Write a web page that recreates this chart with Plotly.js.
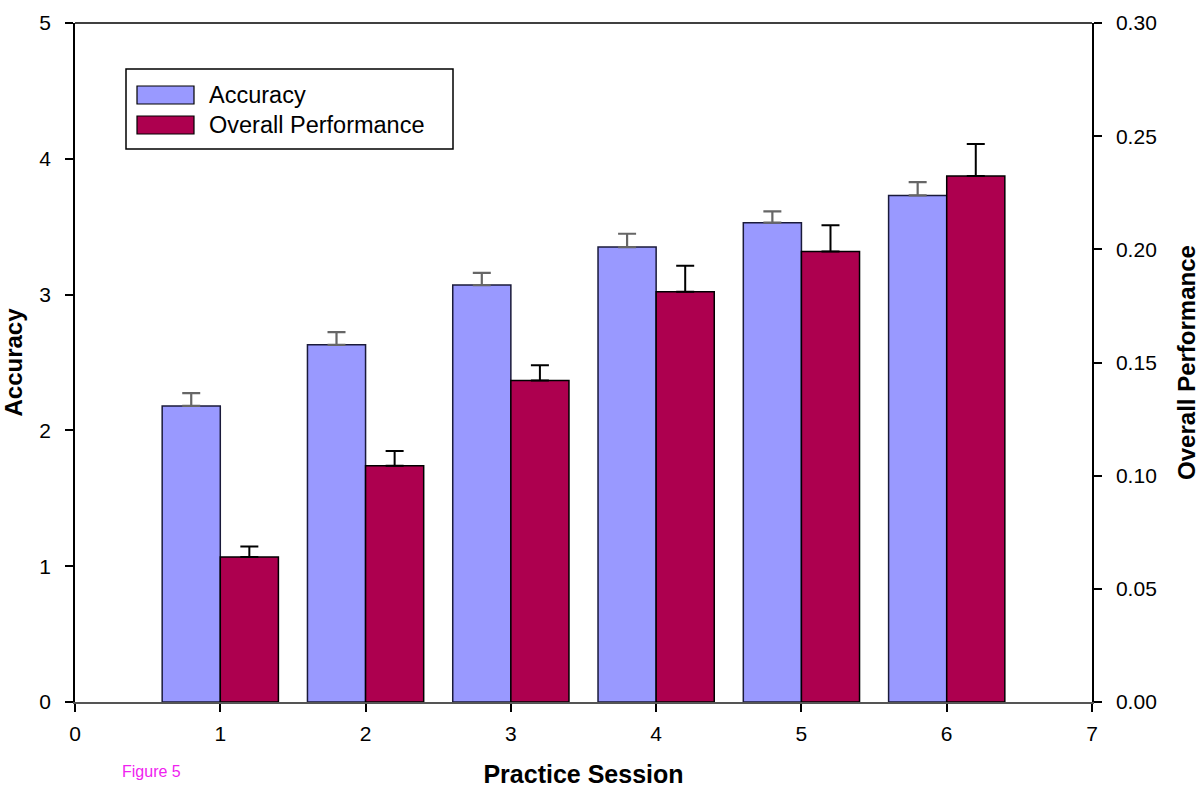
<!DOCTYPE html>
<html>
<head>
<meta charset="utf-8">
<script src="https://cdn.plot.ly/plotly-3.0.1.min.js"></script>
<style>
  body { margin: 0; background: #fff; }
  #graph { width: 1200px; height: 789px; }
</style>
</head>
<body>
<div id="graph"></div>
<script>
// Data
const sessions = [1, 2, 3, 4, 5, 6];
const accuracy = [2.18, 2.63, 3.07, 3.35, 3.53, 3.73];
const accuracyErr = [0.094, 0.093, 0.09, 0.098, 0.083, 0.098];
const overall = [0.0641, 0.1044, 0.142, 0.1813, 0.199, 0.2324];
const overallErr = [0.0046, 0.0065, 0.0068, 0.0114, 0.0116, 0.0141];
const seriesNames = ["Accuracy", "Overall Performance"];
const seriesColors = ["#9999ff", "#ad004f"];

// Plot box in pixels, used to place the hand drawn legend
const plotL = 75, plotR = 1092, plotT = 23, plotB = 702;
function px(x) { return (x - plotL) / (plotR - plotL); }
function py(y) { return (plotB - y) / (plotB - plotT); }

const font = "Liberation Sans, Arial, sans-serif";

let accTrace = {
    x: sessions,
    y: accuracy,
    type: "bar",
    name: seriesNames[0],
    offset: -0.4,
    width: 0.4,
    marker: { color: seriesColors[0], line: { color: "#1a1a3a", width: 1.5 } },
    error_y: {
        type: "data", symmetric: false, array: accuracyErr,
        arrayminus: accuracy.map(() => 0),
        color: "#666666", thickness: 2.2, width: 9
    },
    yaxis: "y",
    showlegend: false
};

let overallTrace = {
    x: sessions,
    y: overall,
    type: "bar",
    name: seriesNames[1],
    offset: 0,
    width: 0.4,
    marker: { color: seriesColors[1], line: { color: "#000000", width: 1.5 } },
    error_y: {
        type: "data", symmetric: false, array: overallErr,
        arrayminus: overall.map(() => 0),
        color: "#000000", thickness: 2, width: 9
    },
    yaxis: "y2",
    showlegend: false
};

// Legend drawn by hand (wide swatches like the original)
let shapes = [
    { type: "line", xref: "paper", yref: "paper", x0: 0, x1: 1, y0: 1, y1: 1,
      line: { color: "#000", width: 1.5 } },
    { type: "rect", xref: "paper", yref: "paper",
      x0: px(126), x1: px(453), y0: py(149), y1: py(69),
      line: { color: "#000", width: 1.5 }, fillcolor: "#fff" }
];
let annotations = [];
const swatchTops = [86, 116];
seriesNames.forEach(function (name, i) {
    shapes.push({
        type: "rect", xref: "paper", yref: "paper",
        x0: px(137), x1: px(194), y0: py(swatchTops[i] + 18), y1: py(swatchTops[i]),
        line: { color: "#000", width: 1.2 }, fillcolor: seriesColors[i]
    });
    annotations.push({
        xref: "paper", yref: "paper", x: px(207), y: py(swatchTops[i] + 9),
        xanchor: "left", yanchor: "middle", showarrow: false, text: name,
        font: { family: font, size: 23.5, color: "#000" }
    });
});
annotations.push({
    xref: "paper", yref: "paper", x: px(120), y: py(771),
    xanchor: "left", yanchor: "middle", showarrow: false, text: "Figure 5",
    font: { family: font, size: 16, color: "#f022f0" }
});

let axisCommon = {
    showgrid: false,
    zeroline: false,
    showline: true,
    linewidth: 1.5,
    ticks: "outside",
    ticklen: 8,
    tickwidth: 1.5,
    tickcolor: "#000",
    ticklabelstandoff: 6,
    tickfont: { family: font, size: 21, color: "#000" }
};

let layout = {
    width: 1200,
    height: 789,
    margin: { l: plotL, r: 1200 - plotR, t: plotT, b: 789 - plotB },
    paper_bgcolor: "#fff",
    plot_bgcolor: "#fff",
    barmode: "overlay",
    font: { family: font, color: "#000" },
    xaxis: Object.assign({}, axisCommon, {
        range: [0, 7], tick0: 0, dtick: 1, linecolor: "#555",
        ticklabelstandoff: 4,
        title: { text: "<b>Practice Session</b>", font: { family: font, size: 25 }, standoff: 22 }
    }),
    yaxis: Object.assign({}, axisCommon, {
        range: [0, 5], tick0: 0, dtick: 1, linecolor: "#000",
        ticklabelstandoff: 10,
        title: { text: "<b>Accuracy</b>", font: { family: font, size: 24 }, standoff: 14 }
    }),
    yaxis2: Object.assign({}, axisCommon, {
        range: [0, 0.3], tick0: 0, dtick: 0.05, tickformat: ".2f",
        overlaying: "y", side: "right", linecolor: "#000",
        ticklabelstandoff: 10,
        title: { text: "<b>Overall Performance</b>", font: { family: font, size: 24 }, standoff: 22 }
    }),
    shapes: shapes,
    annotations: annotations
};

Plotly.newPlot("graph", [accTrace, overallTrace], layout, { displayModeBar: false });
</script>
</body>
</html>
